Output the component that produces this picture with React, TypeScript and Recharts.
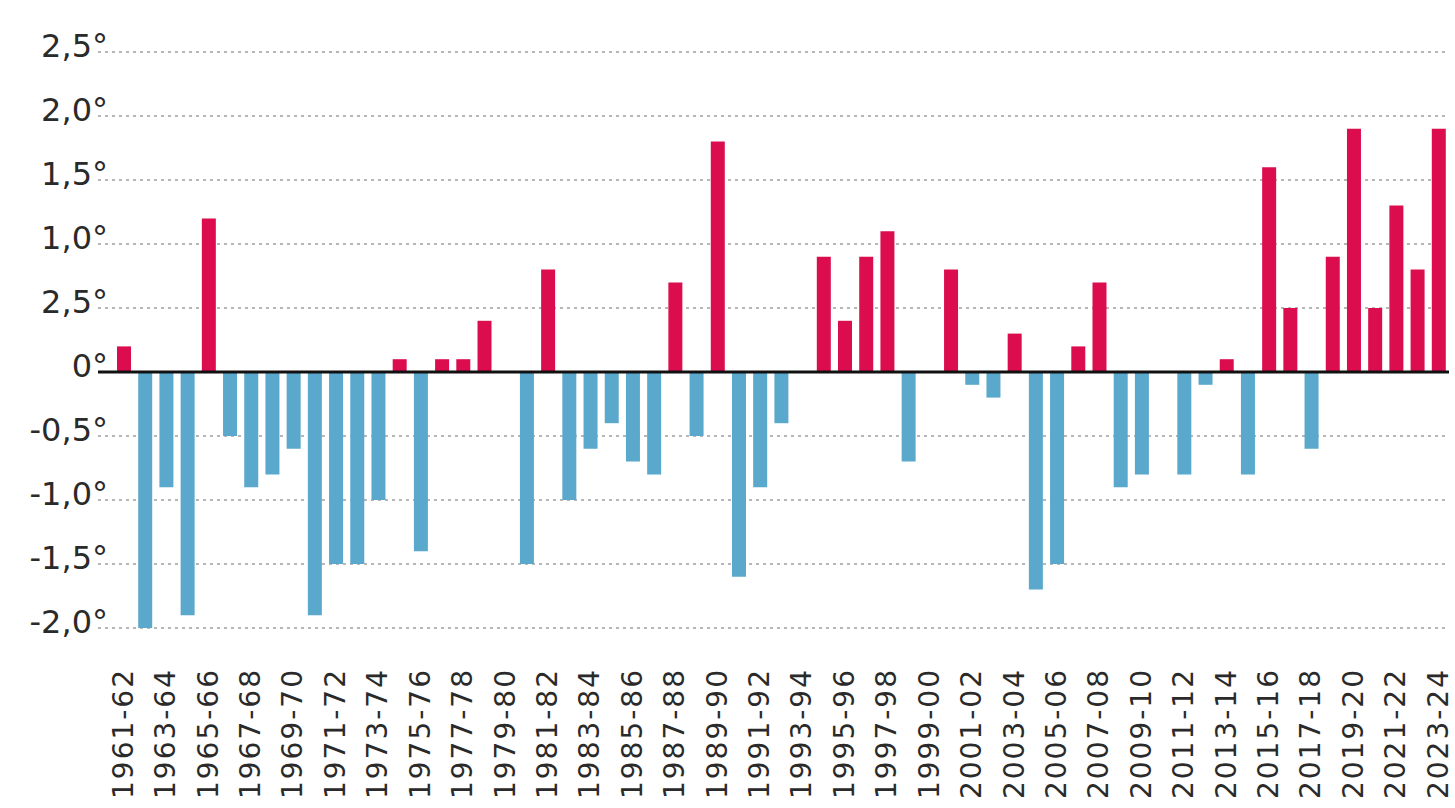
import { BarChart, Bar, XAxis, YAxis, CartesianGrid, ReferenceLine, Cell } from "recharts";

// seasons 1961-62 .. 2023-24
const seasons = [
  "1961-62", "1962-63", "1963-64", "1964-65", "1965-66", "1966-67", "1967-68", "1968-69", "1969-70",
  "1970-71", "1971-72", "1972-73", "1973-74", "1974-75", "1975-76", "1976-77", "1977-78", "1978-79",
  "1979-80", "1980-81", "1981-82", "1982-83", "1983-84", "1984-85", "1985-86", "1986-87", "1987-88",
  "1988-89", "1989-90", "1990-91", "1991-92", "1992-93", "1993-94", "1994-95", "1995-96", "1996-97",
  "1997-98", "1998-99", "1999-00", "2000-01", "2001-02", "2002-03", "2003-04", "2004-05", "2005-06",
  "2006-07", "2007-08", "2008-09", "2009-10", "2010-11", "2011-12", "2012-13", "2013-14", "2014-15",
  "2015-16", "2016-17", "2017-18", "2018-19", "2019-20", "2020-21", "2021-22", "2022-23", "2023-24"
];

// temperature anomaly per season, °C
const anomalies = [
  0.2, -2.0, -0.9, -1.9, 1.2, -0.5, -0.9, -0.8, -0.6,
  -1.9, -1.5, -1.5, -1.0, 0.1, -1.4, 0.1, 0.1, 0.4,
  0, -1.5, 0.8, -1.0, -0.6, -0.4, -0.7, -0.8, 0.7,
  -0.5, 1.8, -1.6, -0.9, -0.4, 0, 0.9, 0.4, 0.9,
  1.1, -0.7, 0, 0.8, -0.1, -0.2, 0.3, -1.7, -1.5,
  0.2, 0.7, -0.9, -0.8, 0, -0.8, -0.1, 0.1, -0.8,
  1.6, 0.5, -0.6, 0.9, 1.9, 0.5, 1.3, 0.8, 1.9
];

const yTicks = [-2, -1.5, -1, -0.5, 0, 0.5, 1, 1.5, 2, 2.5];
// labels as printed in the original (0,5 appears as "2,5°")
const yTickLabels = ["-2,0°", "-1,5°", "-1,0°", "-0,5°", "0°", "2,5°", "1,0°", "1,5°", "2,0°", "2,5°"];

const data = seasons.map((s, i) => ({ season: s, value: anomalies[i] }));

const WARM = "#dc0d4e";
const COLD = "#5aa8cc";

function YTick(props: any) {
  const { x, y, payload } = props;
  const idx = yTicks.indexOf(payload.value);
  return (
    <text x={x + 10} y={y + 5} textAnchor="end" fill="#2a2a2a" fontSize={32} fontFamily="DejaVu Sans">
      {yTickLabels[idx]}
    </text>
  );
}

function XTick(props: any) {
  const { x, y, payload } = props;
  return (
    <text
      x={x}
      y={y}
      transform={`rotate(-90, ${x}, ${y})`}
      textAnchor="end"
      dy="0.33em"
      fill="#2a2a2a"
      fontSize={28}
      letterSpacing={2}
      fontFamily="DejaVu Sans"
    >
      {payload.value}
    </text>
  );
}

export default function App() {
  return (
    <div style={{ position: "absolute", left: 0, top: 0, width: 1455, height: 808, background: "#fff" }}>
      <BarChart width={1455} height={808} data={data} margin={{ top: 52, right: 6, bottom: 0, left: 0 }}>
        <CartesianGrid vertical={false} stroke="#a0a0a0" strokeDasharray="3 4" strokeWidth={1.5} />
        <XAxis
          dataKey="season"
          interval={1}
          height={180}
          axisLine={false}
          tickLine={false}
          tickSize={0}
          tickMargin={40}
          padding={{ left: 15, right: 0 }}
          tick={<XTick />}
        />
        <YAxis
          domain={[-2, 2.5]}
          ticks={yTicks}
          width={98}
          axisLine={false}
          tickLine={false}
          tickSize={0}
          tickMargin={0}
          tick={<YTick />}
        />
        <ReferenceLine y={0} stroke="#111" strokeWidth={3} />
        <Bar dataKey="value" barSize={14} isAnimationActive={false}>
          {data.map((d, i) => (
            <Cell key={i} fill={d.value >= 0 ? WARM : COLD} />
          ))}
        </Bar>
      </BarChart>
    </div>
  );
}
